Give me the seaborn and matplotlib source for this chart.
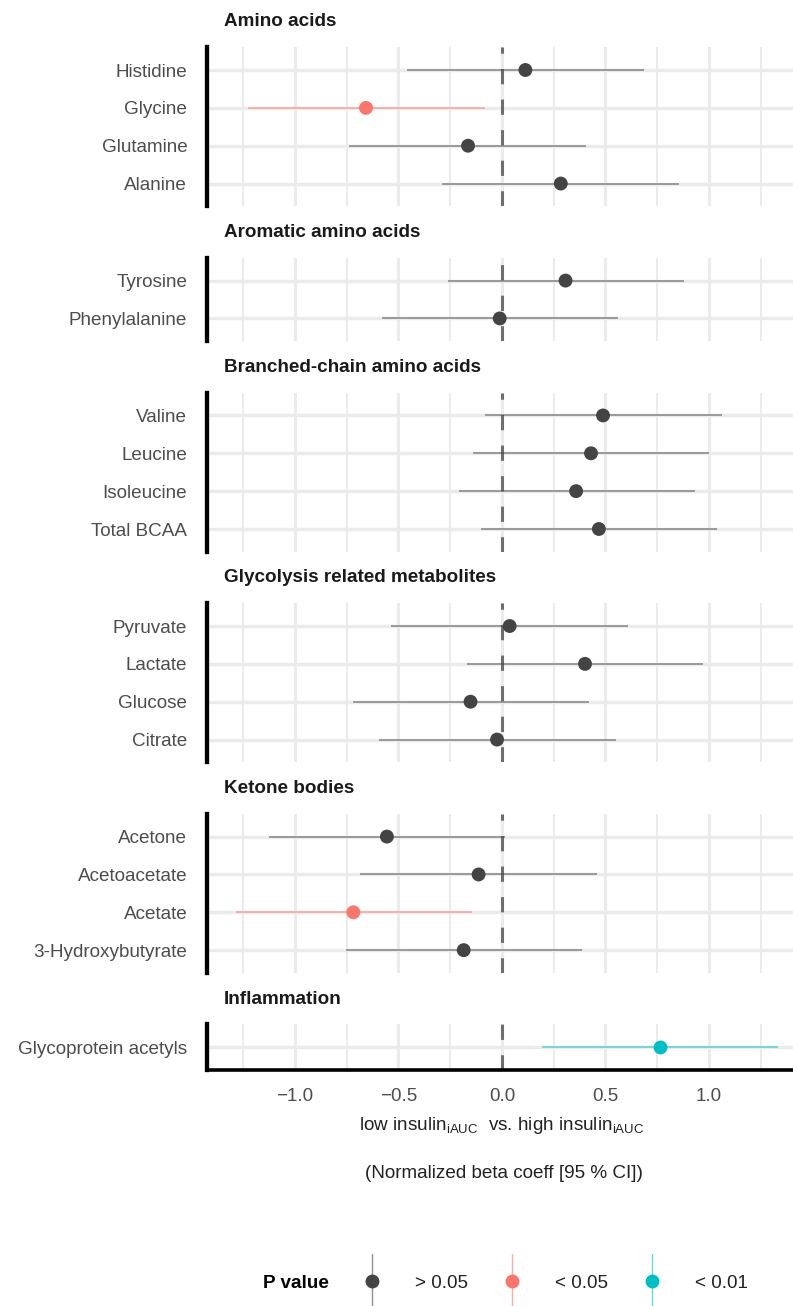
import matplotlib
matplotlib.use("Agg")
import matplotlib.pyplot as plt
from matplotlib.lines import Line2D
from matplotlib.legend_handler import HandlerBase
import numpy as np
import pandas as pd
import seaborn as sns

# ---- data -------------------------------------------------------------
groups = [
    "Amino acids",
    "Aromatic amino acids",
    "Branched-chain amino acids",
    "Glycolysis related metabolites",
    "Ketone bodies",
    "Inflammation",
]
metabolites = [
    "Histidine", "Glycine", "Glutamine", "Alanine",
    "Tyrosine", "Phenylalanine",
    "Valine", "Leucine", "Isoleucine", "Total BCAA",
    "Pyruvate", "Lactate", "Glucose", "Citrate",
    "Acetone", "Acetoacetate", "Acetate", "3-Hydroxybutyrate",
    "Glycoprotein acetyls",
]
group_of = (
    ["Amino acids"] * 4
    + ["Aromatic amino acids"] * 2
    + ["Branched-chain amino acids"] * 4
    + ["Glycolysis related metabolites"] * 4
    + ["Ketone bodies"] * 4
    + ["Inflammation"]
)
beta = [0.113, -0.657, -0.164, 0.284,
        0.307, -0.011,
        0.488, 0.430, 0.358, 0.468,
        0.037, 0.401, -0.152, -0.024,
        -0.556, -0.113, -0.718, -0.185,
        0.765]
ci_low = [-0.457, -1.227, -0.737, -0.290,
          -0.263, -0.582,
          -0.080, -0.141, -0.210, -0.100,
          -0.536, -0.170, -0.721, -0.593,
          -1.125, -0.684, -1.287, -0.755,
          0.192]
ci_high = [0.686, -0.082, 0.406, 0.854,
           0.880, 0.562,
           1.061, 1.001, 0.931, 1.041,
           0.607, 0.971, 0.421, 0.549,
           0.015, 0.459, -0.145, 0.386,
           1.335]
p_value = ["> 0.05", "< 0.05", "> 0.05", "> 0.05",
           "> 0.05", "> 0.05",
           "> 0.05", "> 0.05", "> 0.05", "> 0.05",
           "> 0.05", "> 0.05", "> 0.05", "> 0.05",
           "> 0.05", "> 0.05", "< 0.05", "> 0.05",
           "< 0.01"]
p_levels = ["> 0.05", "< 0.05", "< 0.01"]
p_colors = ["#444444", "#F8766D", "#00BFC4"]
x_ticks = [-1.0, -0.5, 0.0, 0.5, 1.0]
x_minor = [-1.25, -0.75, -0.25, 0.25, 0.75, 1.25]

df = pd.DataFrame({
    "group": group_of, "metabolite": metabolites, "beta": beta,
    "lo": ci_low, "hi": ci_high, "p": p_value,
})
palette = dict(zip(p_levels, p_colors))

# ---- style ------------------------------------------------------------
sns.set_style("white")
plt.rcParams["font.family"] = ["Liberation Sans", "DejaVu Sans"]
plt.rcParams["mathtext.fontset"] = "custom"
plt.rcParams["mathtext.rm"] = "Liberation Sans"
plt.rcParams["mathtext.it"] = "Liberation Sans:italic"
plt.rcParams["mathtext.bf"] = "Liberation Sans:bold"

FS = 13.6
GRID = "#EBEBEB"
LABEL_C = "#4D4D4D"
TITLE_C = "#1A1A1A"

W, H = 793, 1306
fig = plt.figure(figsize=(W / 100, H / 100), dpi=100)

row_px = 37.85
gap_px = 51.6
top_px = 47.3
left_px = 207.0
xlim = (-1.4251, 1.4058)

axes = []
for gi, grp in enumerate(groups):
    sub = df[df["group"] == grp].reset_index(drop=True)
    sub["row"] = np.arange(len(sub))
    n = len(sub)
    h_px = (n + 0.2) * row_px
    ax = fig.add_axes([left_px / W, 1 - (top_px + h_px) / H,
                       (W - left_px) / W, h_px / H])
    axes.append(ax)

    # reference line at zero
    ax.axvline(0, color="#6E6E6E", lw=2.2, ls=(0, (5, 5)), zorder=2)

    # confidence intervals
    ax.hlines(sub["row"], sub["lo"], sub["hi"],
              colors=[palette[p] for p in sub["p"]],
              alpha=0.6, lw=1.15, zorder=3)

    # point estimates
    sns.scatterplot(data=sub, x="beta", y="row", hue="p",
                    hue_order=p_levels, palette=palette, s=100,
                    linewidth=0, legend=False, ax=ax, zorder=5)

    ax.set_xlim(*xlim)
    ax.set_ylim(n - 0.4, -0.6)
    ax.set_yticks(sub["row"])
    ax.set_yticklabels(sub["metabolite"], fontsize=FS, color=LABEL_C)
    ax.set_xticks(x_ticks)
    ax.set_xticks(x_minor, minor=True)
    ax.set_xlabel("")
    ax.set_ylabel("")

    ax.set_axisbelow(True)
    ax.grid(which="major", axis="x", color=GRID, lw=2.2)
    ax.grid(which="minor", axis="x", color=GRID, lw=1.4)
    ax.grid(which="major", axis="y", color=GRID, lw=2.5)

    ax.tick_params(which="both", length=0)
    ax.tick_params(axis="y", pad=14.2)

    for side in ["top", "right", "bottom"]:
        ax.spines[side].set_visible(False)
    ax.spines["left"].set_color("black")
    ax.spines["left"].set_linewidth(3.1)

    # facet title
    fig.text(224 / W, 1 - (top_px - 25.4) / H, grp, fontsize=FS,
             fontweight="bold", color=TITLE_C, ha="left", va="center")

    if gi < len(groups) - 1:
        ax.tick_params(axis="x", labelbottom=False)
    else:
        ax.spines["bottom"].set_visible(True)
        ax.spines["bottom"].set_color("black")
        ax.spines["bottom"].set_linewidth(2.6)
        ax.tick_params(axis="x", labelsize=FS, labelcolor=LABEL_C, pad=13.2)

    top_px = top_px + h_px + gap_px

# axis caption (two lines)
fig.text(502 / W, 1 - 1126 / H,
         r"low insulin$_{\mathrm{iAUC}}$  vs. high insulin$_{\mathrm{iAUC}}$",
         fontsize=FS, color="#222222", ha="center", va="center")
fig.text(504 / W, 1 - 1173.5 / H, "(Normalized beta coeff [95 % CI])",
         fontsize=FS, color="#222222", ha="center", va="center")


# ---- legend -----------------------------------------------------------
class PointRangeKey:
    def __init__(self, color):
        self.color = color


class PointRangeHandler(HandlerBase):
    def create_artists(self, legend, orig_handle, xdescent, ydescent,
                       width, height, fontsize, trans):
        cx = width / 2 - xdescent
        cy = height / 2 - ydescent
        half = 19.5
        line = Line2D([cx, cx], [cy - half, cy + half],
                      color=orig_handle.color, alpha=0.6, lw=1.0)
        dot = Line2D([cx], [cy], marker="o", markersize=10,
                     markeredgewidth=0, color=orig_handle.color,
                     linestyle="none")
        line.set_transform(trans)
        dot.set_transform(trans)
        return [line, dot]


keys = [PointRangeKey(c) for c in p_colors]
fig.text(263 / W, 1 - 1283 / H, "P value", fontsize=FS, fontweight="bold",
         color="black", ha="left", va="center")
fig.legend(keys, p_levels, handler_map={PointRangeKey: PointRangeHandler()},
           loc="center left", bbox_to_anchor=(353 / W, 1 - 1283 / H),
           ncol=3, frameon=False, fontsize=FS, handlelength=2.0,
           handletextpad=1.28, columnspacing=1.32, borderpad=0,
           borderaxespad=0, labelcolor="#222222")

fig.savefig("out.png", dpi=100)
